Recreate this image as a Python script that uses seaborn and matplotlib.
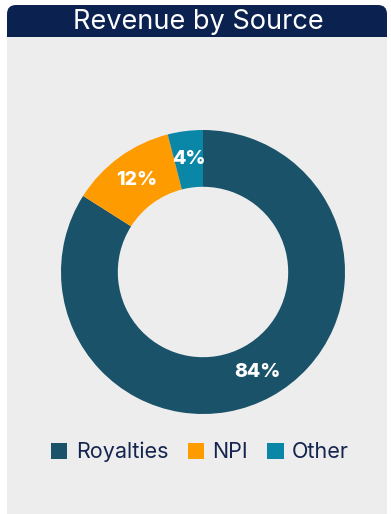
import matplotlib
matplotlib.use("Agg")
import matplotlib.pyplot as plt
from matplotlib.patches import FancyBboxPatch, Rectangle
import seaborn as sns

categories = ["Royalties", "NPI", "Other"]
values = [84, 12, 4]
colors = ["#1a5269", "#fe9b00", "#0a87a6"]
title = "Revenue by Source"

sns.set_theme(style="white")
plt.rcParams['font.family'] = ['Inter', 'DejaVu Sans']

W, H = 391, 514
fig = plt.figure(figsize=(W / 100, H / 100), dpi=100, facecolor="white")

bg = fig.add_axes([0, 0, 1, 1])
bg.set_xlim(0, W)
bg.set_ylim(H, 0)
bg.axis("off")
# gray panel
bg.add_patch(Rectangle((7, 30), 380, H - 30, facecolor="#ededed", edgecolor="none"))
# title bar with rounded top corners
bg.add_patch(FancyBboxPatch((7, 5), 380, 40, boxstyle="round,pad=0,rounding_size=9",
                            facecolor="#0b2251", edgecolor="none", mutation_aspect=1))
bg.add_patch(Rectangle((7, 25), 380, 12, facecolor="#0b2251", edgecolor="none"))
bg.add_patch(Rectangle((7, 37), 380, 10, facecolor="#ededed", edgecolor="none"))
bg.text(198, 22, title, color="white", fontsize=19.5, ha="center", va="center")

cx, cy, r = 203, 272, 142
ax = fig.add_axes([(cx - r) / W, (H - cy - r) / H, 2 * r / W, 2 * r / H])
wedges, texts, autotexts = ax.pie(values, colors=colors, startangle=90, counterclock=False,
                                  radius=1, wedgeprops=dict(width=0.4, edgecolor="none"),
                                  autopct=lambda p: f"{p:.0f}%", pctdistance=0.8,
                                  textprops=dict(color="white", fontsize=14, fontweight="heavy"))
ax.set_xlim(-1, 1)
ax.set_ylim(-1, 1)
ax.set_aspect("equal")
ax.axis("off")

leg = fig.legend(wedges, categories, loc="center", bbox_to_anchor=(200 / W, (H - 452) / H),
                 ncol=3, frameon=False, fontsize=15.5, handlelength=0.75, handleheight=0.75,
                 handletextpad=0.4, columnspacing=0.9, labelcolor="#16254f")

fig.savefig("out.png", dpi=100, facecolor="white")
